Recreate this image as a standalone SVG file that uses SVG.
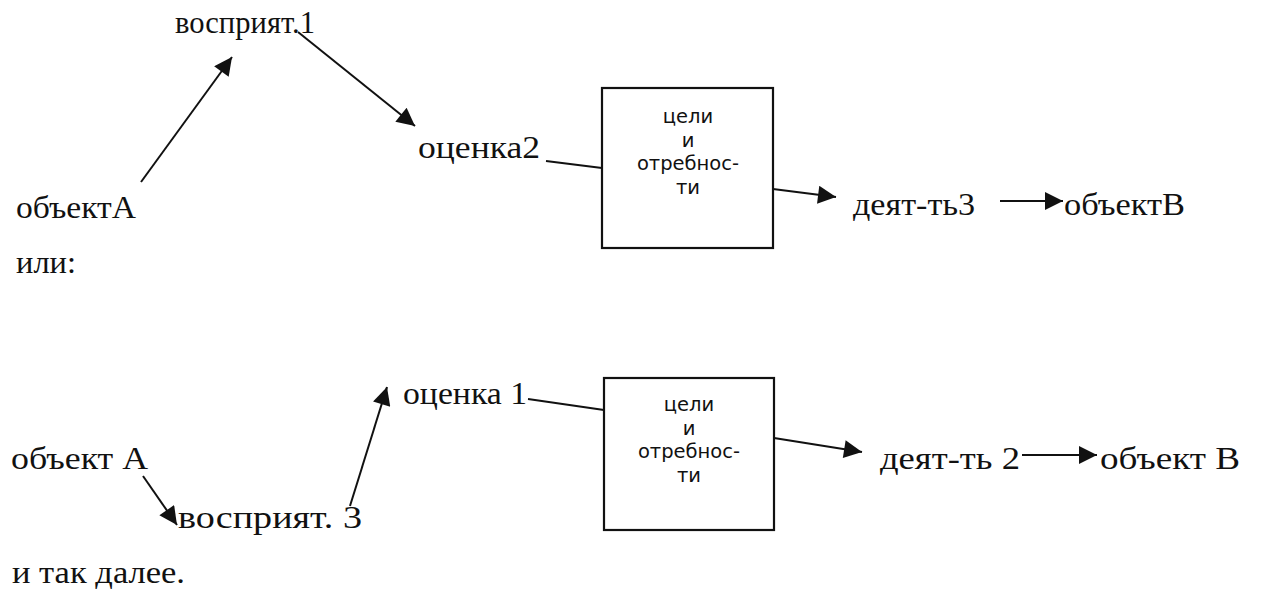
<svg xmlns="http://www.w3.org/2000/svg" width="1272" height="591" viewBox="0 0 1272 591">
<defs>
<style>
.t{font-family:"Liberation Serif","Times New Roman",serif;font-size:32px;fill:#111}
.b{font-family:"DejaVu Sans","Noto Sans",sans-serif;font-size:19.5px;fill:#111;text-anchor:middle}
.box{fill:#fff;stroke:#111;stroke-width:2.2}
.c{stroke:#111;stroke-width:2;fill:none}
</style>
<marker id="ah" viewBox="0 0 10 10" refX="10" refY="5" markerWidth="12" markerHeight="9" markerUnits="strokeWidth" orient="auto">
<path d="M0,0 L10,5 L0,10 Z" fill="#111"/>
</marker>
</defs>
<rect width="1272" height="591" fill="#fff"/>

<g id="objA1"><text class="t" x="16" y="218" textLength="120" lengthAdjust="spacingAndGlyphs">объектА</text></g>
<g id="vospr1"><text class="t" x="175" y="33" textLength="140" lengthAdjust="spacingAndGlyphs">восприят.1</text></g>
<g id="ocenka2"><text class="t" x="418" y="158" textLength="122" lengthAdjust="spacingAndGlyphs">оценка2</text></g>
<g id="box1">
<rect class="box" x="602" y="88" width="171" height="160"/>
<text class="b" x="688" y="123">цели</text>
<text class="b" x="688" y="146.5">и</text>
<text class="b" x="688" y="170">отребнос-</text>
<text class="b" x="688" y="193.5">ти</text>
</g>
<g id="deyat3"><text class="t" x="853" y="215" textLength="122" lengthAdjust="spacingAndGlyphs">деят-ть3</text></g>
<g id="objB1"><text class="t" x="1064" y="215" textLength="121" lengthAdjust="spacingAndGlyphs">объектВ</text></g>
<g id="ili"><text class="t" x="16" y="273" textLength="60" lengthAdjust="spacingAndGlyphs">или:</text></g>

<g id="objA2"><text class="t" x="11" y="469" textLength="137" lengthAdjust="spacingAndGlyphs">объект А</text></g>
<g id="vospr3"><text class="t" x="178" y="528" textLength="184" lengthAdjust="spacingAndGlyphs">восприят. 3</text></g>
<g id="ocenka1"><text class="t" x="403" y="404" textLength="124" lengthAdjust="spacingAndGlyphs">оценка 1</text></g>
<g id="box2">
<rect class="box" x="604" y="378" width="170" height="152"/>
<text class="b" x="689" y="411">цели</text>
<text class="b" x="689" y="434.5">и</text>
<text class="b" x="689" y="458">отребнос-</text>
<text class="b" x="689" y="481.5">ти</text>
</g>
<g id="deyat2"><text class="t" x="880" y="469" textLength="140" lengthAdjust="spacingAndGlyphs">деят-ть 2</text></g>
<g id="objB2"><text class="t" x="1100" y="469" textLength="140" lengthAdjust="spacingAndGlyphs">объект В</text></g>
<g id="etc"><text class="t" x="12" y="583" textLength="173" lengthAdjust="spacingAndGlyphs">и так далее.</text></g>

<g id="connectors">
<line class="c" x1="141" y1="182" x2="232" y2="57" marker-end="url(#ah)"/>
<line class="c" x1="298" y1="32" x2="415" y2="126" marker-end="url(#ah)"/>
<line class="c" x1="546" y1="161" x2="602" y2="168"/>
<line class="c" x1="773" y1="189" x2="836" y2="197" marker-end="url(#ah)"/>
<line class="c" x1="1000" y1="201" x2="1063" y2="201" marker-end="url(#ah)"/>

<line class="c" x1="143" y1="476" x2="177" y2="525" marker-end="url(#ah)"/>
<line class="c" x1="350" y1="506" x2="387" y2="387" marker-end="url(#ah)"/>
<line class="c" x1="528" y1="399" x2="604" y2="410"/>
<line class="c" x1="774" y1="438" x2="862" y2="452" marker-end="url(#ah)"/>
<line class="c" x1="1022" y1="455" x2="1097" y2="455" marker-end="url(#ah)"/>
</g>
</svg>
